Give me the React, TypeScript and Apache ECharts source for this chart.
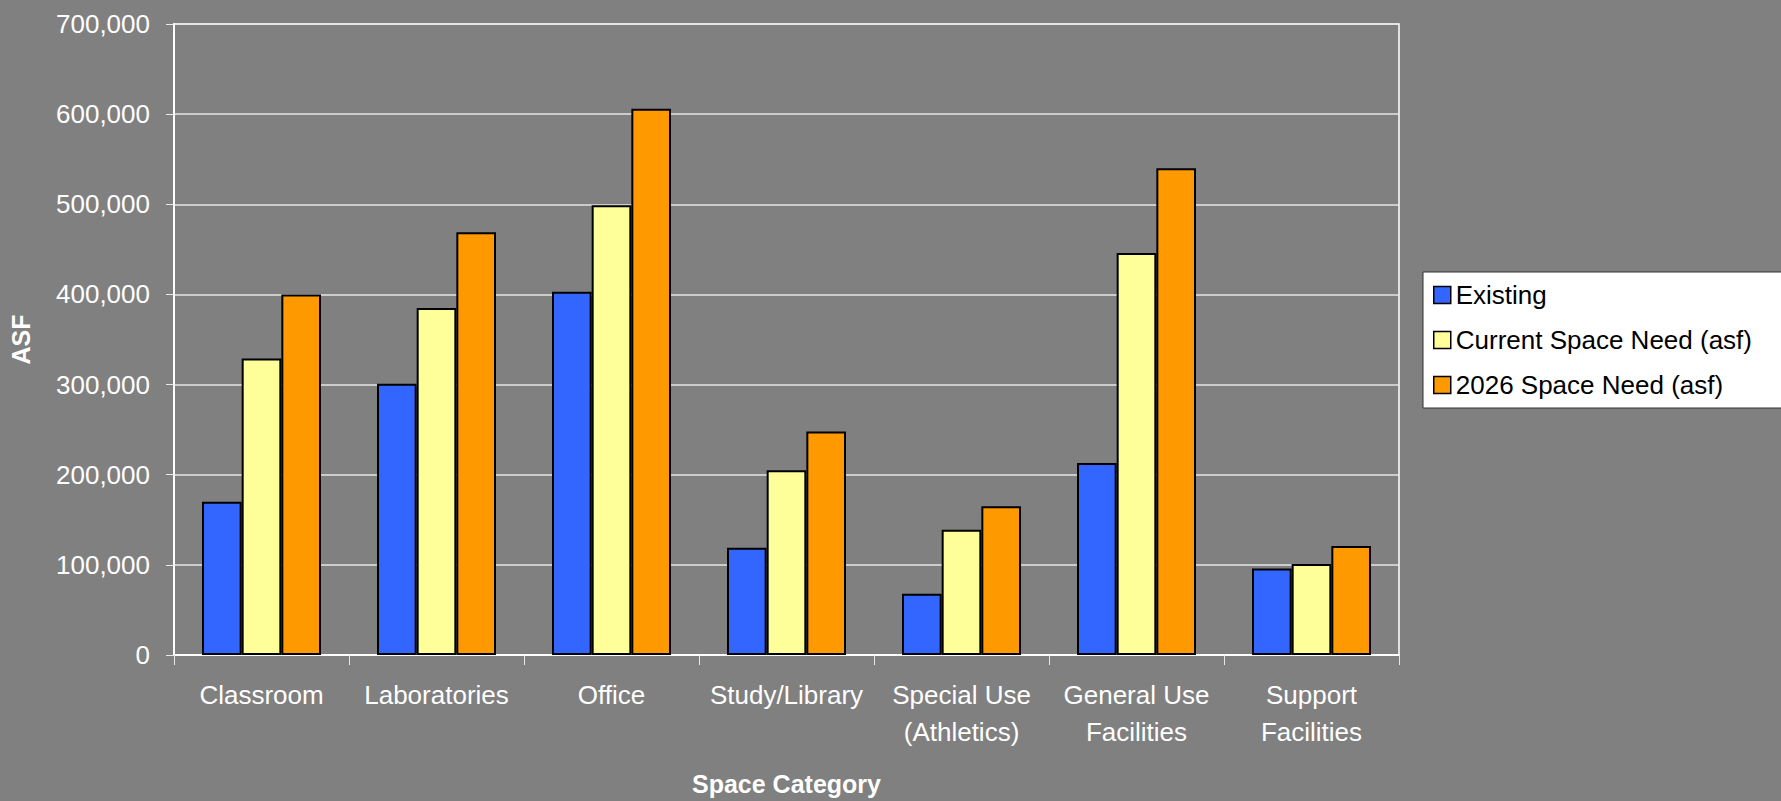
import React, { useEffect, useRef } from "react";
import * as echarts from "echarts";

const categories = [
  "Classroom",
  "Laboratories",
  "Office",
  "Study/Library",
  "Special Use\n(Athletics)",
  "General Use\nFacilities",
  "Support\nFacilities",
];
const seriesNames = ["Existing", "Current Space Need (asf)", "2026 Space Need (asf)"];
const existing = [170000, 301000, 403000, 119000, 68000, 213000, 96000];
const currentNeed = [329000, 385000, 499000, 205000, 139000, 446000, 101000];
const need2026 = [400000, 469000, 606000, 248000, 165000, 540000, 121000];
const seriesColors = ["#3366FF", "#FFFF99", "#FF9900"];
const yTicks = { min: 0, max: 700000, interval: 100000 };

const FONT = "'Liberation Sans', Arial, sans-serif";

export default function App() {
  const ref = useRef<HTMLDivElement>(null);
  useEffect(() => {
    if (!ref.current) return;
    const chart = echarts.init(ref.current, null, { renderer: "svg" });
    const data = [existing, currentNeed, need2026];
    chart.setOption({
      animation: false,
      backgroundColor: "#808080",
      textStyle: { fontFamily: FONT },
      grid: {
        left: 174,
        right: 382,
        top: 24,
        bottom: 145,
        show: true,
        borderColor: "#ffffff",
        borderWidth: 1.5,
        backgroundColor: "transparent",
      },
      legend: {
        orient: "vertical",
        left: 1423,
        top: 272,
        backgroundColor: "#ffffff",
        borderColor: "#333333",
        borderWidth: 1,
        padding: [9, 40, 9, 10],
        itemWidth: 17,
        itemHeight: 17,
        itemGap: 17,
        icon: "rect",
        itemStyle: { borderColor: "#000000", borderWidth: 1.5 },
        textStyle: { color: "#000000", fontSize: 26, fontFamily: FONT, lineHeight: 28 },
        data: seriesNames,
      },
      xAxis: {
        type: "category",
        data: categories,
        name: "Space Category",
        nameLocation: "middle",
        nameGap: 116,
        nameTextStyle: { color: "#ffffff", fontSize: 25, fontWeight: "bold", fontFamily: FONT },
        axisLine: { show: true, lineStyle: { color: "#ffffff", width: 2 } },
        axisTick: { show: true, length: 10, lineStyle: { color: "#e8e8e8", width: 1 } },
        axisLabel: {
          color: "#ffffff",
          fontSize: 26,
          fontFamily: FONT,
          lineHeight: 37,
          margin: 21,
          interval: 0,
        },
      },
      yAxis: {
        type: "value",
        min: yTicks.min,
        max: yTicks.max,
        interval: yTicks.interval,
        name: "ASF",
        nameLocation: "middle",
        nameGap: 141,
        nameRotate: 90,
        nameTextStyle: { color: "#ffffff", fontSize: 25, fontWeight: "bold", fontFamily: FONT },
        axisLine: { show: true, lineStyle: { color: "#ffffff", width: 2 } },
        axisTick: { show: true, length: 8, lineStyle: { color: "#e8e8e8", width: 1 } },
        splitLine: { show: true, lineStyle: { color: "#e6e6e6", width: 1.5 } },
        axisLabel: {
          color: "#ffffff",
          fontSize: 26,
          fontFamily: FONT,
          margin: 24,
          formatter: (v: number) => v.toLocaleString("en-US"),
        },
      },
      series: seriesNames.map((name, i) => ({
        name,
        type: "bar",
        data: data[i],
        barGap: "0%",
        barCategoryGap: "32%",
        itemStyle: { color: seriesColors[i], borderColor: "#000000", borderWidth: 2 },
      })),
    });
    return () => chart.dispose();
  }, []);
  return (
    <div
      ref={ref}
      style={{ position: "fixed", left: 0, top: 0, width: 1781, height: 801 }}
    />
  );
}
